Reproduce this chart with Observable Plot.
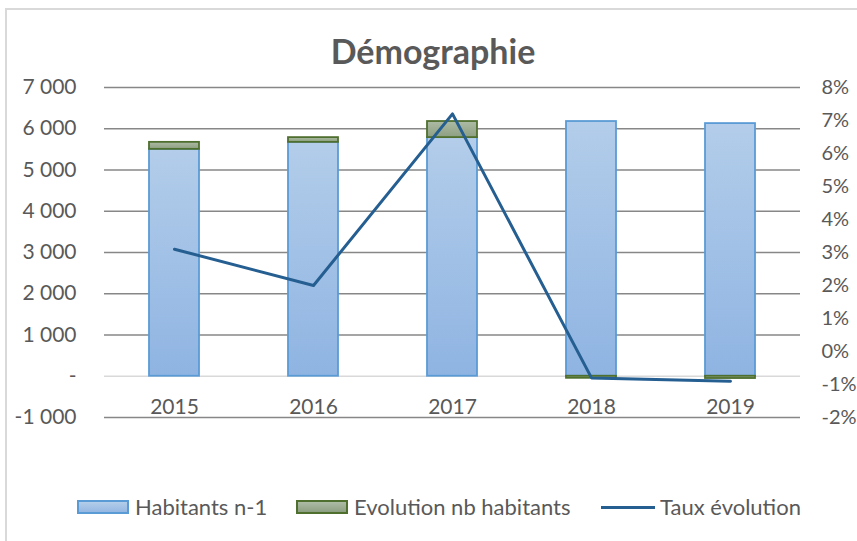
<!DOCTYPE html>
<html>
<head>
<meta charset="utf-8">
<script src="https://cdn.jsdelivr.net/npm/d3@7"></script>
<script src="https://cdn.jsdelivr.net/npm/@observablehq/plot@0.6"></script>
<style>
  html, body { margin: 0; padding: 0; background: #fff; }
  #chart { position: relative; width: 857px; height: 541px; overflow: hidden; font-family: Lato, "Open Sans", sans-serif; color: #595959; }
  #border { position: absolute; left: 5px; top: 8px; width: 900px; height: 600px; border: 2px solid #d9d9d9; box-sizing: border-box; }
  #title { position: absolute; left: 0; top: 34px; width: 866px; text-align: center; font-size: 34px; font-weight: 700; line-height: 1; }
  #plot { position: absolute; left: 0; top: 0; }
  .leg { position: absolute; top: 495px; display: flex; align-items: center; font-size: 22px; line-height: 24px; white-space: nowrap; }
  .sw { display: inline-block; width: 52px; height: 14px; box-sizing: border-box; margin-right: 6px; }
  .ln { display: inline-block; width: 54px; height: 3px; background: #255e91; margin-right: 5px; }
</style>
</head>
<body>
<div id="chart">
  <div id="border"></div>
  <div id="title">Démographie</div>
  <div id="plot"></div>
  <div class="leg" style="left:77px"><span class="sw" style="background:linear-gradient(#b3cdea,#95b8e2);border:2px solid #5b9bd5"></span>Habitants n-1</div>
  <div class="leg" style="left:296px"><span class="sw" style="background:linear-gradient(#adbba5,#8d9f81);border:2px solid #4f6f2f"></span>Evolution nb habitants</div>
  <div class="leg" style="left:601px"><span class="ln"></span>Taux évolution</div>
</div>
<script>
const years = ["2015", "2016", "2017", "2018", "2019"];
const habitantsN1 = [5500, 5670, 5785, 6175, 6125];
const evolutionNb = [170, 115, 390, -50, -55];
const tauxEvolution = [3.1, 2.0, 7.2, -0.8, -0.9]; // %
const leftTicks = [-1000, 0, 1000, 2000, 3000, 4000, 5000, 6000, 7000];
const rightTicks = [-2, -1, 0, 1, 2, 3, 4, 5, 6, 7, 8]; // %

// secondary axis (-2%..8%) mapped onto primary axis (-1000..7000)
const toLeft = r => 800 * r + 600;
const fromLeft = v => (v - 600) / 800;

const bars = [];
years.forEach((y, i) => bars.push({year: y, series: "Habitants n-1", value: habitantsN1[i]}));
years.forEach((y, i) => bars.push({year: y, series: "Evolution nb habitants", value: evolutionNb[i]}));
const lineData = years.map((y, i) => ({year: y, rate: tauxEvolution[i]}));

const fmtLeft = v => v === 0 ? "-" : (v < 0 ? "-" : "") + d3.format(",")(Math.abs(v)).replace(/,/g, " ");

const chart = Plot.plot({
  width: 857,
  height: 460,
  marginTop: 87,
  marginBottom: 43,
  marginLeft: 104,
  marginRight: 57,
  style: {fontFamily: "Lato, 'Open Sans', sans-serif", fontSize: "21px", color: "#595959", background: "transparent"},
  x: {domain: years, paddingInner: 0.64, paddingOuter: 0.32, axis: null},
  y: {domain: [-1000, 7000], nice: false, axis: null},
  marks: [
    Plot.ruleY(leftTicks.filter(d => d !== 0), {stroke: "#878787", strokeWidth: 1.6}),
    Plot.ruleY([0], {stroke: "#d9d9d9", strokeWidth: 1.6}),
    Plot.barY(bars, Plot.stackY({
      x: "year", y: "value", z: "series",
      fill: d => d.series === "Habitants n-1" ? "url(#gBlue)" : "url(#gGreen)",
      stroke: d => d.series === "Habitants n-1" ? "#5b9bd5" : "#4f6f2f",
      strokeWidth: 1.8
    })),
    Plot.line(lineData, {x: "year", y: d => toLeft(d.rate), stroke: "#255e91", strokeWidth: 3}),
    Plot.text(years, {x: d => d, y: () => 0, dy: 31, text: d => d, fill: "#595959", fontSize: 21}),
    Plot.axisY(leftTicks, {anchor: "left", label: null, tickSize: 0, tickPadding: 28, tickFormat: fmtLeft, fill: "#595959", fontSize: 21}),
    Plot.axisY(rightTicks.map(toLeft), {anchor: "right", label: null, tickSize: 0, tickPadding: 21, tickFormat: v => Math.round(fromLeft(v)) + "%", fill: "#595959", fontSize: 20})
  ]
});

const svg = d3.select(chart);
const defs = svg.insert("defs", ":first-child");
const gb = defs.append("linearGradient").attr("id", "gBlue").attr("x1", 0).attr("y1", 0).attr("x2", 0).attr("y2", 1);
gb.append("stop").attr("offset", "0%").attr("stop-color", "#b3cdea");
gb.append("stop").attr("offset", "100%").attr("stop-color", "#8fb4e2");
const gg = defs.append("linearGradient").attr("id", "gGreen").attr("x1", 0).attr("y1", 0).attr("x2", 0).attr("y2", 1);
gg.append("stop").attr("offset", "0%").attr("stop-color", "#adbba5");
gg.append("stop").attr("offset", "100%").attr("stop-color", "#8d9f81");

document.getElementById("plot").appendChild(chart);
</script>
</body>
</html>
